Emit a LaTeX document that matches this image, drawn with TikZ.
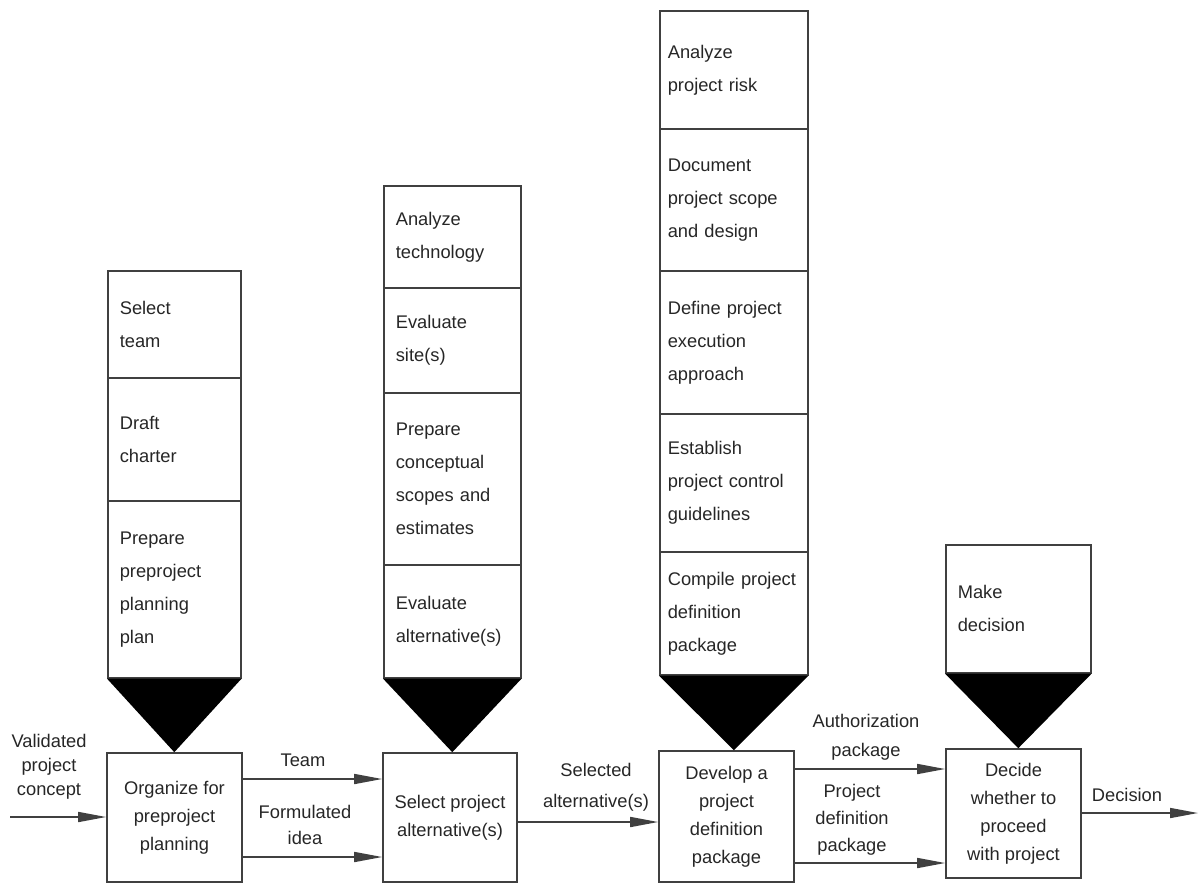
\documentclass[tikz,border=0pt]{standalone}
\usepackage{fontspec}
\setmainfont{Liberation Sans}
\usetikzlibrary{arrows.meta}

\begin{document}
\begin{tikzpicture}[x=1pt,y=-1pt,
  line/.style={draw=black!75, line width=1.6pt},
  seg/.style={line, rectangle, anchor=north west, align=left,
    inner xsep=12pt, inner ysep=0pt, text=black!85,
    font=\fontsize{18.3}{33}\selectfont},
  wideseg/.style={seg, inner xsep=8pt, minimum width=148pt, text width=132pt},
  stage/.style={line, rectangle, align=center, inner sep=0pt,
    text=black!85, font=\fontsize{18.3}{28}\selectfont},
  lab/.style={align=center, inner sep=0pt, text=black!85,
    font=\fontsize{18.3}{27}\selectfont},
  arr/.style={line, -{Triangle[length=28pt,width=10pt]}},
  funnel/.style={fill=black}
]
\useasboundingbox (0,0) rectangle (1201,884);

% ---- column 1: preproject planning organisation
\node[seg, minimum width=133pt, minimum height=107pt, text width=109pt] (c1a) at (107,270) {Select\\team};
\node[seg, minimum width=133pt, minimum height=123pt, text width=109pt] (c1b) at (107,377) {Draft\\charter};
\node[seg, minimum width=133pt, minimum height=177pt, text width=109pt] (c1c) at (107,500) {Prepare\\preproject\\planning\\plan};

% ---- column 2: alternative selection
\node[seg, minimum width=137pt, minimum height=102pt, text width=113pt] (c2a) at (383,185) {Analyze\\technology};
\node[seg, minimum width=137pt, minimum height=105pt, text width=113pt] (c2b) at (383,287) {Evaluate\\site(s)};
\node[seg, minimum width=137pt, minimum height=172pt, text width=113pt] (c2c) at (383,392) {Prepare\\conceptual\\scopes and\\estimates};
\node[seg, minimum width=137pt, minimum height=113pt, text width=113pt] (c2d) at (383,564) {Evaluate\\alternative(s)};

% ---- column 3: project definition
\node[wideseg, minimum height=118pt] (c3a) at (659,10) {Analyze\\project risk};
\node[wideseg, minimum height=142pt] (c3b) at (659,128) {Document\\project scope\\and design};
\node[wideseg, minimum height=143pt] (c3c) at (659,270) {Define project\\execution\\approach};
\node[wideseg, minimum height=138pt] (c3d) at (659,413) {Establish\\project control\\guidelines};
\node[wideseg, minimum height=123pt] (c3e) at (659,551) {Compile project\\definition\\package};

% ---- column 4: decision
\node[seg, minimum width=145pt, minimum height=128pt, text width=121pt] (c4a) at (945,544) {Make\\decision};

% ---- process stages
\node[stage, minimum width=135pt, minimum height=129pt] (b1) at (174.5,817.5) {Organize for\\preproject\\planning};
\node[stage, minimum width=134pt, minimum height=129pt] (b2) at (450,817.5) {Select project\\alternative(s)};
\node[stage, minimum width=135pt, minimum height=131pt] (b3) at (726.5,816.5) {Develop a\\project\\definition\\package};
\node[stage, minimum width=135pt, minimum height=129pt] (b4) at (1013.5,813.5) {Decide\\whether to\\proceed\\with project};

% ---- funnels from activity stacks into stages
\fill[funnel] (c1c.south west) -- (c1c.south east) -- (c1c.south |- b1.north) -- cycle;
\fill[funnel] (c2d.south west) -- (c2d.south east) -- (c2d.south |- b2.north) -- cycle;
\fill[funnel] (c3e.south west) -- (c3e.south east) -- (c3e.south |- b3.north) -- cycle;
\fill[funnel] (c4a.south west) -- (c4a.south east) -- (c4a.south |- b4.north) -- cycle;

% ---- flow levels
\coordinate (in)  at (10,817);
\coordinate (tm)  at (0,779);
\coordinate (fi)  at (0,857);
\coordinate (sa)  at (0,822);
\coordinate (ap)  at (0,769);
\coordinate (pd)  at (0,863);
\coordinate (out) at (1198,813);

% ---- connectors
\draw[arr] (in) -- (in -| b1.west);
\draw[arr] (tm -| b1.east) -- (tm -| b2.west);
\draw[arr] (fi -| b1.east) -- (fi -| b2.west);
\draw[arr] (sa -| b2.east) -- (sa -| b3.west);
\draw[arr] (ap -| b3.east) -- (ap -| b4.west);
\draw[arr] (pd -| b3.east) -- (pd -| b4.west);
\draw[arr] (out -| b4.east) -- (out);

% ---- connector labels
\node[lab, font=\fontsize{18.3}{24}\selectfont] (lin) at (49,767) {Validated\\project\\concept};
\node[lab] (ltm) at (303,760) {Team};
\node[lab, font=\fontsize{18.3}{26}\selectfont] (lfi) at (305,825) {Formulated\\idea};
\node[lab, font=\fontsize{18.3}{31}\selectfont] (lsa) at (596,787) {Selected\\alternative(s)};
\node[lab, font=\fontsize{18.3}{29}\selectfont] (lap) at (866,737) {Authorization\\package};
\node[lab] (lpd) at (852,820) {Project\\definition\\package};
\node[lab] (lout) at (1127,795) {Decision};
\end{tikzpicture}
\end{document}
